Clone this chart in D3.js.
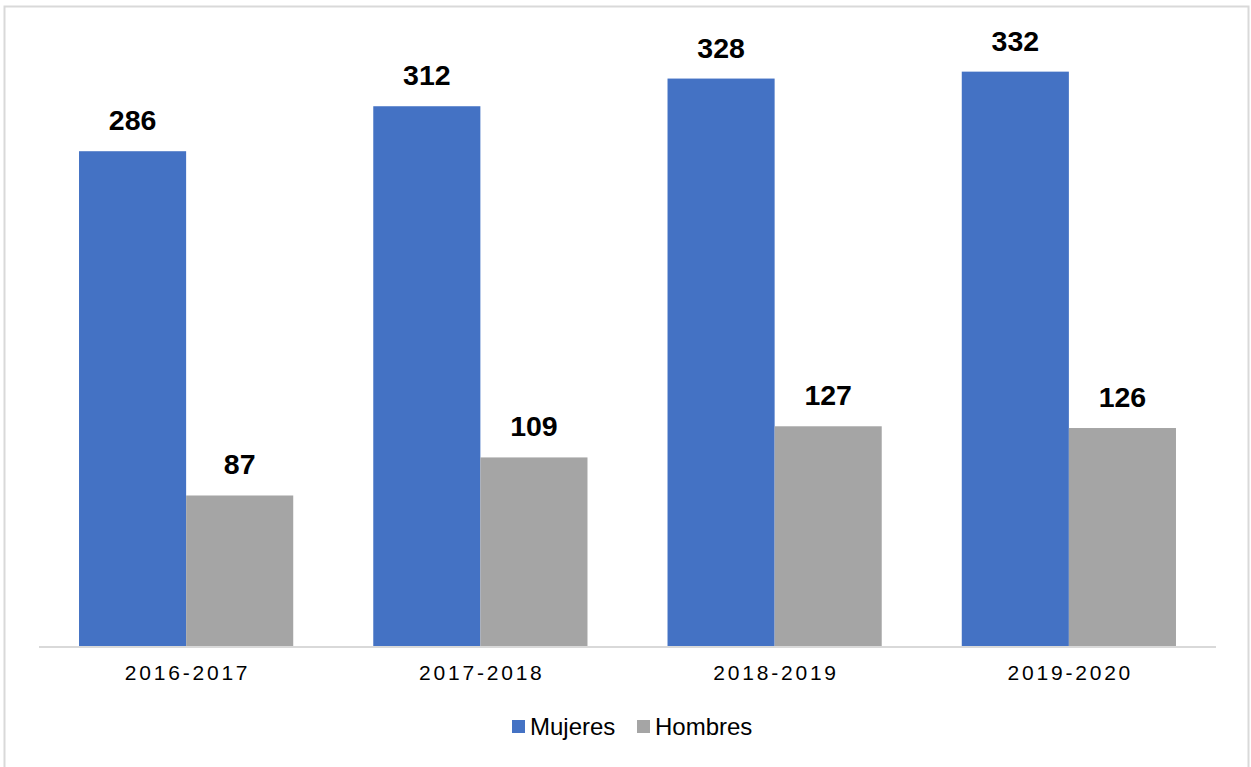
<!DOCTYPE html>
<html><head><meta charset="utf-8">
<script src="https://cdn.jsdelivr.net/npm/d3@7"></script>
<style>body{margin:0;background:#fff}svg{display:block}</style>
</head><body>
<svg id="c" width="1251" height="767"></svg>
<script>
const categories = ["2016-2017","2017-2018","2018-2019","2019-2020"];
const seriesNames = ["Mujeres","Hombres"];
const mujeres = [286,312,328,332];
const hombres = [87,109,127,126];
const colors = ["#4472C4","#A5A5A5"];

const svg = d3.select("#c");
// outer frame
svg.append("rect").attr("x",4.5).attr("y",6.5).attr("width",1244).attr("height",780)
  .attr("fill","#fff").attr("stroke","#d9d9d9").attr("stroke-width",2);

const left = 39, right = 1216, base = 646;
const x = d3.scaleBand().domain(categories).range([left,right]).paddingInner(0.272).paddingOuter(0.136);
const xs = d3.scaleBand().domain(seriesNames).range([0,x.bandwidth()]);
const y = d3.scaleLinear().domain([0,350]).range([base, base-350*1.73]);

const data = [mujeres, hombres];
const g = svg.append("g");
seriesNames.forEach((s,si)=>{
  const sg = g.append("g");
  sg.selectAll("rect").data(categories).join("rect")
    .attr("x",(c)=>x(c)+xs(s))
    .attr("y",(c,i)=>y(data[si][i]))
    .attr("width",xs.bandwidth())
    .attr("height",(c,i)=>y(0)-y(data[si][i]))
    .attr("fill",colors[si]);
  sg.selectAll("text").data(categories).join("text")
    .attr("x",(c)=>x(c)+xs(s)+xs.bandwidth()/2)
    .attr("y",(c,i)=>y(data[si][i])-21)
    .attr("text-anchor","middle")
    .attr("font-family","Liberation Sans, Arial, sans-serif")
    .attr("font-weight","bold").attr("font-size",28.5).attr("fill","#000")
    .text((c,i)=>data[si][i]);
});

// x axis
const ax = svg.append("g").attr("transform",`translate(0,${base})`)
  .call(d3.axisBottom(x).tickSize(0).tickPadding(0));
ax.select(".domain").attr("stroke","#d9d9d9").attr("stroke-width",2)
  .attr("d",`M${left},1H${right}`);
ax.selectAll("text").attr("font-family","Liberation Sans, Arial, sans-serif")
  .attr("font-size",21).attr("fill","#000").attr("letter-spacing","2.8px")
  .attr("dy",0).attr("y",34).attr("dx","1.4px");

// legend
const leg = svg.append("g");
const legItems = [{name:"Mujeres",x:512},{name:"Hombres",x:637}];
legItems.forEach((d,i)=>{
  leg.append("rect").attr("x",d.x).attr("y",720).attr("width",13).attr("height",13).attr("fill",colors[i]);
  leg.append("text").attr("x",d.x+18).attr("y",735)
    .attr("font-family","Liberation Sans, Arial, sans-serif").attr("font-size",24).attr("fill","#000")
    .text(d.name);
});
</script>
</body></html>
